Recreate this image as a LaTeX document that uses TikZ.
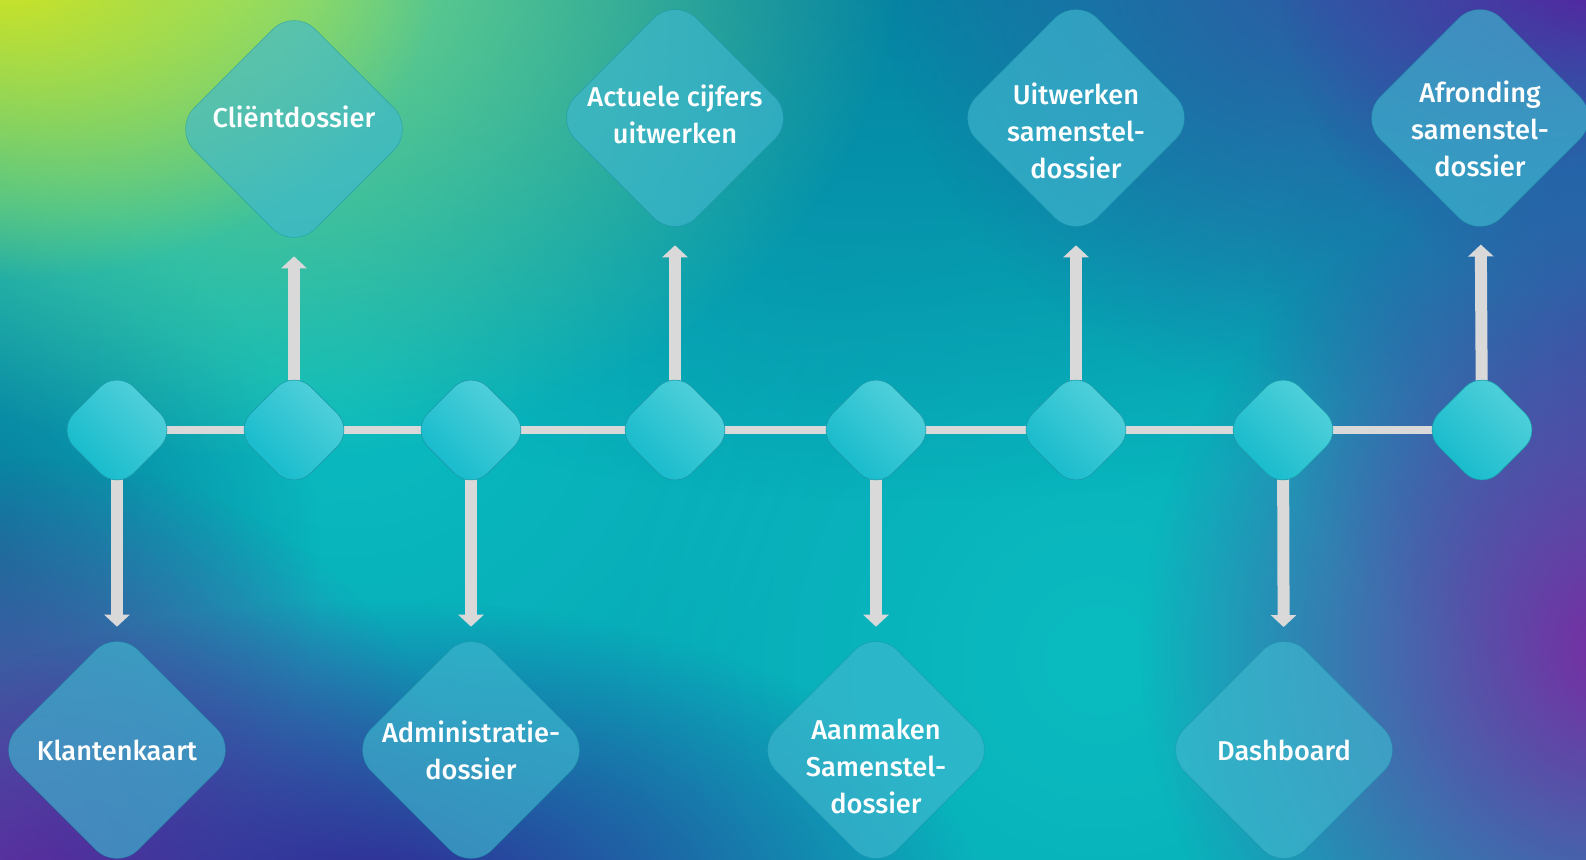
\documentclass[tikz,border=0pt]{standalone}
\usepackage{fontspec}
\setmainfont{Fira Sans}[UprightFont=* Medium]
\usetikzlibrary{shapes.geometric,arrows.meta,backgrounds,fadings}

\definecolor{basis}{HTML}{07AAB8}
\definecolor{helder}{HTML}{0ABCC0}
\definecolor{groen}{HTML}{78DA84}
\definecolor{geel}{HTML}{D6E61E}
\definecolor{paarsa}{HTML}{7A2AA2}
\definecolor{paarsb}{HTML}{5C1CA0}
\definecolor{paarsc}{HTML}{7A2AA2}
\definecolor{nachtblauw}{HTML}{322896}
\definecolor{staalblauw}{HTML}{2E5AA5}
\definecolor{rechtsblauw}{HTML}{1E68A8}
\definecolor{toptint}{HTML}{0580A0}
\definecolor{randtint}{HTML}{0A7498}
\definecolor{puntlicht}{HTML}{58D3DC}
\definecolor{puntdonker}{HTML}{0FB8CB}
\definecolor{puntrand}{HTML}{1A9AAA}
\definecolor{stapkleur}{HTML}{40B8D0}
\definecolor{staprand}{HTML}{178FA5}
\definecolor{lijnkleur}{HTML}{D9D9D9}

\tikzfading[name=gloed, inner color=transparent!0, outer color=transparent!100]

\begin{document}
\begin{tikzpicture}[x=0.5pt,y=-0.5pt,
  punt/.style={diamond,minimum size=60pt,inner sep=0pt,rounded corners=12pt,top color=puntlicht,bottom color=puntdonker,shading angle=-45,draw=puntrand,line width=0.3pt},
  stap/.style={diamond,minimum size=121pt,inner sep=0pt,rounded corners=15pt,fill=stapkleur,fill opacity=0.65,draw=staprand,draw opacity=0.5,line width=0.3pt},
  tekst/.style={text=white,align=center,font=\fontsize{13.6pt}{18.5pt}\selectfont,opacity=1,inner sep=0pt},
  lijn/.style={draw=lijnkleur,line width=4pt},
  pijl/.style={draw=lijnkleur,line width=6pt,-{Triangle[width=12.5pt,length=6pt]}}]
            \useasboundingbox (0,0) rectangle (1586,860);

            \node[punt] (p1) at (117,430) {};
            \node[punt] (p2) at (294,430) {};
            \node[punt] (p3) at (471,430) {};
            \node[punt] (p4) at (675,430) {};
            \node[punt] (p5) at (876,430) {};
            \node[punt] (p6) at (1076,430) {};
            \node[punt] (p7) at (1283,430) {};
            \node[punt] (p8) at (1482,430) {};

            \node[stap,label={[tekst,yshift=6pt]center:Cliëntdossier}] (client) at (294,129) {};
            \node[stap,label={[tekst,yshift=2pt]center:Actuele cijfers\\uitwerken}] (actueel) at (675,118) {};
            \node[stap,label={[tekst,yshift=-6.5pt]center:Uitwerken\\samenstel-\\dossier}] (uitwerk) at (1076,118) {};
            \node[stap,label={[tekst,yshift=-5.5pt]center:Afronding\\samenstel-\\dossier}] (afrond) at (1480,118) {};

            \node[stap,label={[tekst]center:Klantenkaart}] (klant) at (117,750) {};
            \node[stap,label={[tekst]center:Administratie-\\dossier}] (admin) at (471,750) {};
            \node[stap,label={[tekst,yshift=-8pt]center:Aanmaken\\Samenstel-\\dossier}] (aanmaak) at (876,750) {};
            \node[stap,label={[tekst]center:Dashboard}] (dash) at (1284,750) {};

            \begin{scope}[on background layer]
              \clip (0,0) rectangle (1586,860);
              \fill[basis] (0,0) rectangle (1586,860);
              \fill[helder,path fading=gloed] (350,360) circle (500);
              \fill[helder,path fading=gloed] (1100,660) circle (500);
              \fill[toptint,path fading=gloed] (900,-60) ellipse [x radius=1000, y radius=560];
              \fill[randtint,path fading=gloed] (-60,560) circle (380);
              \fill[groen,path fading=gloed] (260,-40) ellipse [x radius=640, y radius=500];
              \fill[geel,path fading=gloed] (0,-40) ellipse [x radius=440, y radius=320];
              \fill[paarsa,path fading=gloed] (40,900) circle (440);
              \fill[nachtblauw,path fading=gloed] (380,900) ellipse [x radius=600, y radius=300];
              \fill[staalblauw,path fading=gloed] (1320,-40) circle (440);
              \fill[paarsb,path fading=gloed] (1600,-20) circle (320);
              \fill[rechtsblauw,path fading=gloed] (1620,330) circle (360);
              \fill[paarsc,path fading=gloed] (1620,650) circle (480);

              \draw[lijn] (p1.center) -- (p8.center);
              \draw[pijl,shorten >=3pt] (p2.center) -- (client);
              \draw[pijl,shorten >=3pt] (p4.center) -- (actueel);
              \draw[pijl,shorten >=3pt] (p6.center) -- (uitwerk);
              \draw[pijl,shorten >=3pt] (p8.center) -- (afrond);
              \draw[pijl,shorten >=1pt] (p1.center) -- (klant);
              \draw[pijl,shorten >=1pt] (p3.center) -- (admin);
              \draw[pijl,shorten >=1pt] (p5.center) -- (aanmaak);
              \draw[pijl,shorten >=1pt] (p7.center) -- (dash);
            \end{scope}
          \end{tikzpicture}
\end{document}
